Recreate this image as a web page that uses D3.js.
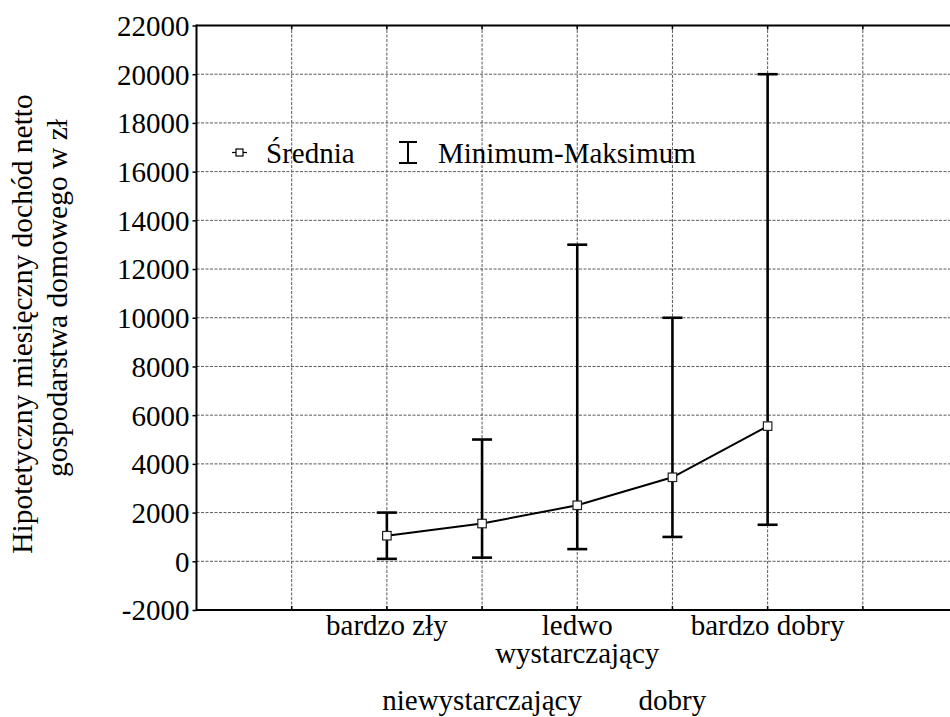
<!DOCTYPE html>
<html>
<head>
<meta charset="utf-8">
<script src="https://cdn.jsdelivr.net/npm/d3@7/dist/d3.min.js"></script>
<style>
  html, body { margin: 0; padding: 0; background: #fff; }
  svg { display: block; }
  text { font-family: "Liberation Serif", "Times New Roman", serif; fill: #000; }
</style>
</head>
<body>
<svg id="chart" width="950" height="717"></svg>
<script>
// Household income by self-assessed financial situation
const categories = ["bardzo zły", "niewystarczający", "ledwo wystarczający", "dobry", "bardzo dobry"];
const means = [1050, 1550, 2300, 3450, 5550];
const mins  = [100, 150, 500, 1000, 1500];
const maxs  = [2000, 5000, 13000, 10000, 20000];
const yTicks = [-2000, 0, 2000, 4000, 6000, 8000, 10000, 12000, 14000, 16000, 18000, 20000, 22000];
const yTitle = ["Hipotetyczny miesięczny dochód netto", "gospodarstwa domowego w zł"];
const legendLabels = ["Średnia", "Minimum-Maksimum"];

const FONT = "Liberation Serif";
const svg = d3.select("#chart");
const plot = { left: 196.5, right: 958, top: 25.5, bottom: 610 };

// categories sit on integer positions 2..6 of an 0..8 index axis
const x = d3.scaleLinear().domain([0, 8]).range([plot.left, plot.right]);
const y = d3.scaleLinear().domain([-2000, 22000]).range([plot.bottom, plot.top]);
const pos = categories.map((c, i) => i + 2);

const gridColor = "#5a5a5a";
const grid = svg.append("g");
grid.selectAll("line.h").data(yTicks.filter(v => v > -2000 && v < 22000)).join("line")
  .attr("x1", plot.left).attr("x2", plot.right)
  .attr("y1", d => y(d)).attr("y2", d => y(d))
  .attr("stroke", gridColor).attr("stroke-width", 1).attr("stroke-dasharray", "3,1.5");
grid.selectAll("line.v").data(d3.range(1, 8)).join("line")
  .attr("x1", d => x(d)).attr("x2", d => x(d))
  .attr("y1", plot.top).attr("y2", plot.bottom)
  .attr("stroke", gridColor).attr("stroke-width", 1).attr("stroke-dasharray", "3,1.5");

// frame
const frame = svg.append("g").attr("stroke", "#000").attr("stroke-width", 2).attr("fill", "none");
frame.append("line").attr("x1", plot.left).attr("x2", plot.right).attr("y1", plot.top).attr("y2", plot.top);
frame.append("line").attr("x1", plot.left).attr("x2", plot.right).attr("y1", plot.bottom).attr("y2", plot.bottom);
frame.append("line").attr("x1", plot.left).attr("x2", plot.left).attr("y1", plot.top - 1).attr("y2", plot.bottom + 1);

// small inward ticks on top and bottom edges
const tk = svg.append("g").attr("stroke", "#000").attr("stroke-width", 1.5);
d3.range(1, 8).forEach(d => {
  tk.append("line").attr("x1", x(d)).attr("x2", x(d)).attr("y1", plot.top).attr("y2", plot.top + 4);
  tk.append("line").attr("x1", x(d)).attr("x2", x(d)).attr("y1", plot.bottom).attr("y2", plot.bottom - 4);
});

// y axis
const yAxis = d3.axisLeft(y).tickValues(yTicks).tickSize(4).tickPadding(3).tickFormat(d => String(d));
const ya = svg.append("g").attr("transform", `translate(${plot.left},0)`).call(yAxis)
  .attr("font-family", FONT);
ya.select(".domain").remove();
ya.selectAll(".tick line").attr("stroke", "#000").attr("stroke-width", 1.5);
ya.selectAll(".tick text").attr("font-size", 29).attr("font-family", FONT).attr("dy", "0.34em");

// category labels: staggered on two rows, long names wrapped
const rowY = [635, 710];
const lineH = 28;
categories.forEach((c, i) => {
  const words = c.split(" ");
  const lines = (c.length > 15 && words.length > 1) ? [words[0], words.slice(1).join(" ")] : [c];
  const t = svg.append("text")
    .attr("text-anchor", "middle")
    .attr("font-family", FONT)
    .attr("font-size", 29)
    .attr("x", x(pos[i]))
    .attr("y", rowY[i % 2]);
  lines.forEach((ln, k) => {
    t.append("tspan").attr("x", x(pos[i])).attr("dy", k === 0 ? 0 : lineH).text(ln);
  });
});

// y axis title (rotated, two lines)
const titleCenters = [[32, 324], [67, 298]];
yTitle.forEach((s, i) => {
  svg.append("text")
    .attr("transform", `translate(${titleCenters[i][0]},${titleCenters[i][1]}) rotate(-90)`)
    .attr("text-anchor", "middle")
    .attr("font-family", FONT)
    .attr("font-size", 29.5)
    .text(s);
});

// min-max whiskers
const cap = 10;
const bars = svg.append("g").attr("stroke", "#000").attr("stroke-width", 2.6);
categories.forEach((c, i) => {
  const cx = x(pos[i]);
  bars.append("line").attr("x1", cx).attr("x2", cx).attr("y1", y(mins[i])).attr("y2", y(maxs[i]));
  bars.append("line").attr("x1", cx - cap).attr("x2", cx + cap).attr("y1", y(mins[i])).attr("y2", y(mins[i]));
  bars.append("line").attr("x1", cx - cap).attr("x2", cx + cap).attr("y1", y(maxs[i])).attr("y2", y(maxs[i]));
});

// mean line with square markers
const line = d3.line().x((d, i) => x(pos[i])).y(d => y(d));
svg.append("path").datum(means).attr("d", line)
  .attr("fill", "none").attr("stroke", "#000").attr("stroke-width", 2);
const ms = 8.5;
svg.selectAll("rect.mean").data(means).join("rect")
  .attr("x", (d, i) => x(pos[i]) - ms / 2).attr("y", d => y(d) - ms / 2)
  .attr("width", ms).attr("height", ms)
  .attr("fill", "#fff").attr("stroke", "#222").attr("stroke-width", 1.2);

// legend
const lg = svg.append("g");
const ly = 152.5;
lg.append("line").attr("x1", 232).attr("x2", 247).attr("y1", ly).attr("y2", ly).attr("stroke", "#000").attr("stroke-width", 1.2);
lg.append("rect").attr("x", 236).attr("y", ly - 3.5).attr("width", 7).attr("height", 7)
  .attr("fill", "#fff").attr("stroke", "#000").attr("stroke-width", 1.2);
lg.append("text").attr("x", 266).attr("y", 163).attr("font-family", FONT).attr("font-size", 29).text(legendLabels[0]);
const ex = 408;
lg.append("line").attr("x1", ex).attr("x2", ex).attr("y1", 142).attr("y2", 163).attr("stroke", "#000").attr("stroke-width", 2);
lg.append("line").attr("x1", ex - 9).attr("x2", ex + 9).attr("y1", 142).attr("y2", 142).attr("stroke", "#000").attr("stroke-width", 2);
lg.append("line").attr("x1", ex - 9).attr("x2", ex + 9).attr("y1", 163).attr("y2", 163).attr("stroke", "#000").attr("stroke-width", 2);
lg.append("text").attr("x", 438).attr("y", 163).attr("font-family", FONT).attr("font-size", 29).text(legendLabels[1]);
</script>
</body>
</html>
